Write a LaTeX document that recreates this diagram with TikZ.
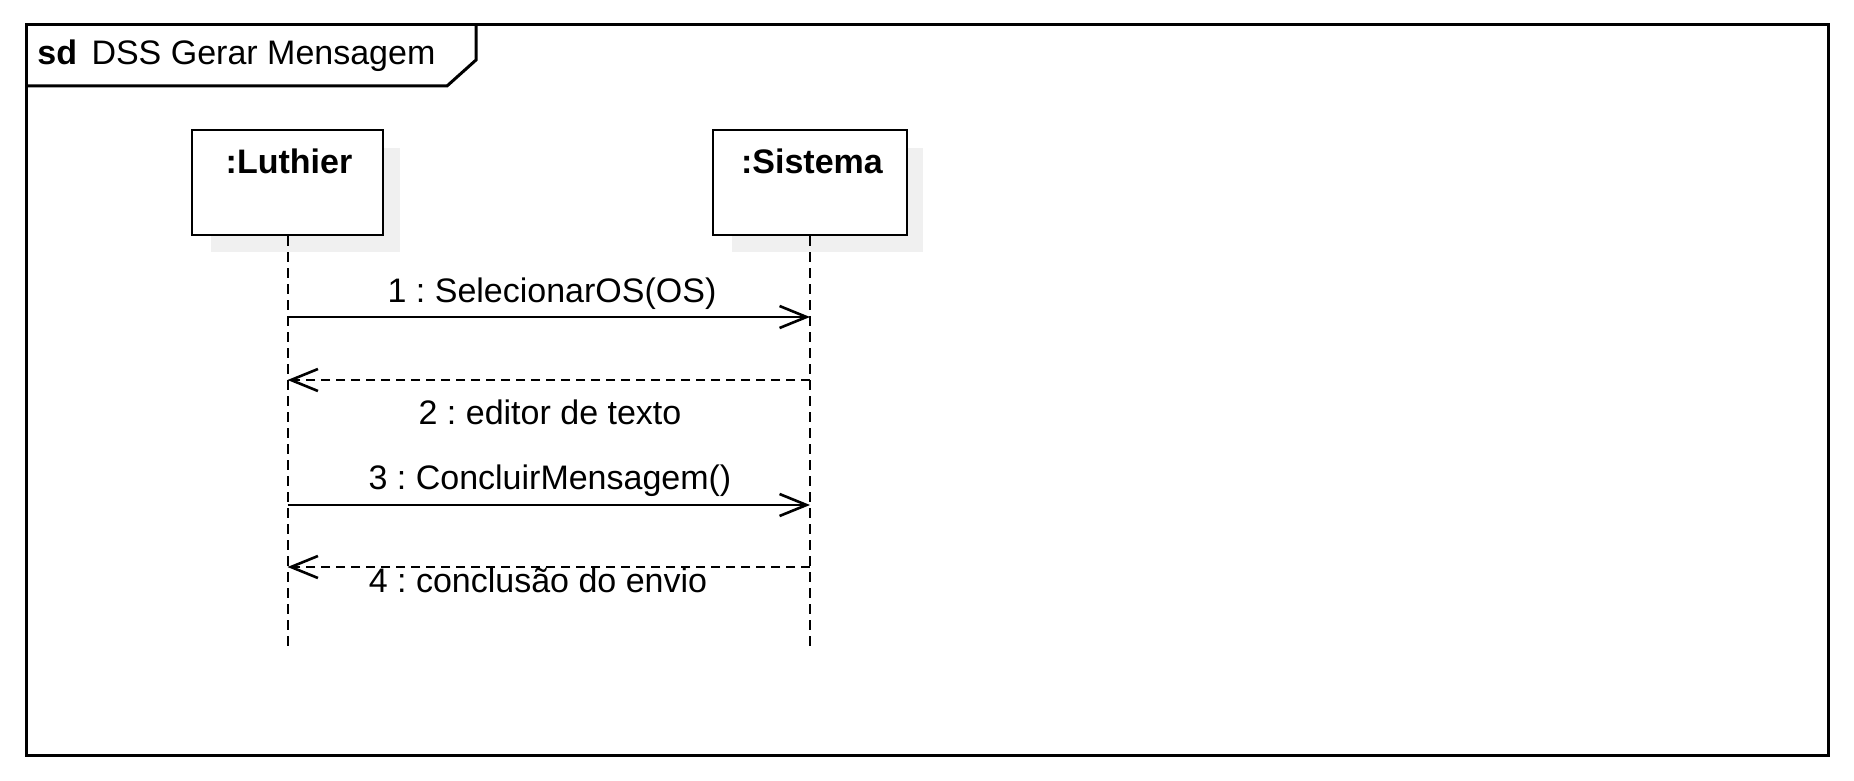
\documentclass[tikz,border=0pt]{standalone}
\usepackage{fontspec}
\setmainfont{Liberation Sans}
\usetikzlibrary{arrows.meta}
\frenchspacing
\begin{document}
\begin{tikzpicture}[x=0.5pt,y=-0.5pt,
  frame/.style={line width=1.5pt},
  partbox/.style={draw,line width=1.3pt,fill=white,minimum height=52.5pt,inner sep=0pt},
  shadowbox/.style={fill=black!6,draw=none},
  lifeline/.style={line width=1pt,dash pattern=on 5pt off 3pt},
  call/.style={line width=1.3pt,-{Straight Barb[length=13.5pt,width=11pt,line width=1.3pt]}},
  reply/.style={line width=1.3pt,dash pattern=on 4.5pt off 3pt,-{Straight Barb[length=13.5pt,width=11pt,line width=1.3pt]}},
  txt/.style={font=\fontsize{17pt}{20pt}\selectfont,inner sep=0pt,anchor=base}]
\useasboundingbox (0,0) rectangle (1854,781);
% frame
\draw[frame] (26,25) rectangle (1828,755);
\draw[frame] (26,86) -- (447,86) -- (476,60) -- (476,25);
\node[txt,anchor=base west] (title) at (37,65) {\textbf{sd}\hspace{2.5pt} DSS Gerar Mensagem};
% shadows
\fill[shadowbox] (211,148) rectangle (400,252);
\fill[shadowbox] (732,148) rectangle (923,252);
% participants
\node[partbox,minimum width=95.5pt] (luth) at (287.5,182.5) {};
\node[partbox,minimum width=97pt] (sist) at (810,182.5) {};
\node[txt,font=\fontsize{17pt}{20pt}\selectfont\bfseries] (luthlbl) at (289,174) {:Luthier};
\node[txt,font=\fontsize{17pt}{20pt}\selectfont\bfseries] (sistlbl) at (812,174) {:Sistema};
% lifelines
\coordinate (lend) at (287.5,650);
\coordinate (send) at (810,650);
\draw[lifeline] (luth.south) -- (lend);
\draw[lifeline] (sist.south) -- (send);
% message points
\coordinate (l1) at (287.5,317); \coordinate (s1) at (810,317);
\coordinate (l2) at (287.5,380); \coordinate (s2) at (810,380);
\coordinate (l3) at (287.5,505); \coordinate (s3) at (810,505);
\coordinate (l4) at (287.5,567); \coordinate (s4) at (810,567);
\draw[call] (l1) -- (s1);
\draw[reply] (s2) -- (l2);
\draw[call] (l3) -- (s3);
\draw[reply] (s4) -- (l4);
% labels
\node[txt] (t1) at (552,302) {1 : SelecionarOS(OS)};
\node[txt] (t2) at (550,424) {2 : editor de texto};
\node[txt] (t3) at (550,489) {3 : ConcluirMensagem()};
\node[txt] (t4) at (538,592) {4 : conclusão do envio};
\end{tikzpicture}
\end{document}
